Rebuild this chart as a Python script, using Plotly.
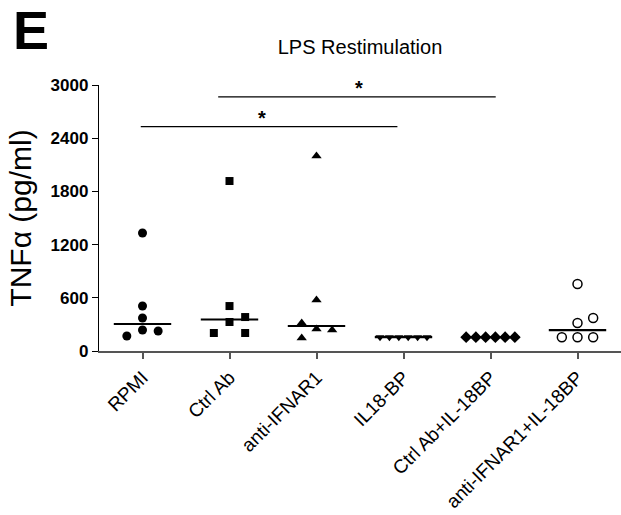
import numpy as np
import plotly.graph_objects as go

# ---------------- data ----------------
categories = ["RPMI", "Ctrl Ab", "anti-IFNAR1", "IL18-BP",
              "Ctrl Ab+IL-18BP", "anti-IFNAR1+IL-18BP"]

rpmi = [1331, 507, 372, 237, 225, 169]
ctrl_ab = [1917, 507, 383, 327, 203, 203]
anti_ifnar1 = [2199, 575, 316, 248, 237, 147]
il18bp = [156, 156, 156, 156, 156, 156]
ctrl_il18bp = [156, 156, 156, 156, 156, 156]
anti_ifnar1_il18bp = [756, 372, 316, 156, 156, 156]

series_values = [rpmi, ctrl_ab, anti_ifnar1, il18bp, ctrl_il18bp, anti_ifnar1_il18bp]

y_tick_values = [0, 600, 1200, 1800, 2400, 3000]

# significance comparisons: bar heights and labels
sig_heights = [2530, 2865]
sig_labels = ["*", "*"]

# ---------------- styles / layout ----------------
sig_x_extent = [(-0.02, 2.93), (0.87, 4.06)]
sig_star_x = [1.37, 2.49]

jitter = [
    [0, 0, 0, 0, 0.18, -0.18],
    [0, 0, 0.18, 0, -0.18, 0.18],
    [0, 0, -0.17, 0, 0.18, -0.17],
    list(np.linspace(-0.27, 0.27, 6)),
    list(np.linspace(-0.28, 0.28, 6)),
    [0, 0.18, 0, -0.18, 0, 0.18],
]
marker_styles = [
    dict(symbol="circle", size=9, color="black"),
    dict(symbol="square", size=8, color="black"),
    dict(symbol="triangle-up", size=9, color="black"),
    dict(symbol="triangle-down", size=8, color="black"),
    dict(symbol="diamond", size=9, color="black"),
    dict(symbol="circle-open", size=9, color="black", line=dict(width=1.5, color="black")),
]

FONT = "Liberation Sans, Arial, Helvetica, sans-serif"

fig = go.Figure()

for i, (vals, jit, ms) in enumerate(zip(series_values, jitter, marker_styles)):
    xs = [i + j for j in jit]
    fig.add_trace(go.Scatter(x=xs, y=vals, mode="markers", marker=ms,
                             showlegend=False, cliponaxis=False))
    med = float(np.median(vals))
    fig.add_trace(go.Scatter(x=[i - 0.33, i + 0.33], y=[med, med], mode="lines",
                             line=dict(color="black", width=2.2),
                             showlegend=False, hoverinfo="skip"))

for (x0, x1), sx, h, lab in zip(sig_x_extent, sig_star_x, sig_heights, sig_labels):
    fig.add_trace(go.Scatter(x=[x0, x1], y=[h, h], mode="lines",
                             line=dict(color="black", width=1.3),
                             showlegend=False, hoverinfo="skip", cliponaxis=False))
    fig.add_annotation(x=sx, y=h, xref="x", yref="y",
                       text="<b>" + lab + "</b>", showarrow=False,
                       yshift=9, font=dict(size=20, color="black", family=FONT))

fig.add_annotation(x=-0.168, y=1 + (85 - 30) / 266, xref="paper", yref="paper",
                   yanchor="middle", xanchor="left",
                   text="<b>E</b>", showarrow=False,
                   font=dict(size=54, color="black", family=FONT))

fig.update_layout(
    width=621, height=515,
    margin=dict(l=99, r=0, t=85, b=164),
    paper_bgcolor="white", plot_bgcolor="white",
    font=dict(family=FONT, color="black"),
    title=dict(text="LPS Restimulation", x=0.5, xanchor="center", xref="paper",
               y=1 - 47 / 515, yanchor="middle", yref="container",
               font=dict(size=20, color="black", family=FONT)),
)

fig.update_xaxes(
    range=[-0.5, 5.5], tickmode="array", tickvals=list(range(len(categories))),
    ticktext=categories, tickangle=-45, showgrid=False, zeroline=False,
    showline=True, linecolor="#555", linewidth=2, ticks="outside",
    ticklen=6, tickwidth=1.5, tickcolor="#555",
    tickfont=dict(size=19, color="black", family=FONT),
)
fig.update_yaxes(
    range=[0, 3000], tickmode="array", tickvals=y_tick_values,
    showgrid=False, zeroline=False, showline=True, linecolor="black",
    linewidth=1.3, ticks="outside", ticklen=6, tickwidth=1.3, tickcolor="black",
    tickfont=dict(size=17, color="black", family=FONT, weight="bold"),
    title=dict(text="TNFα (pg/ml)", font=dict(size=30, color="black", family=FONT),
               standoff=10),
)

fig.write_html("out.html")
